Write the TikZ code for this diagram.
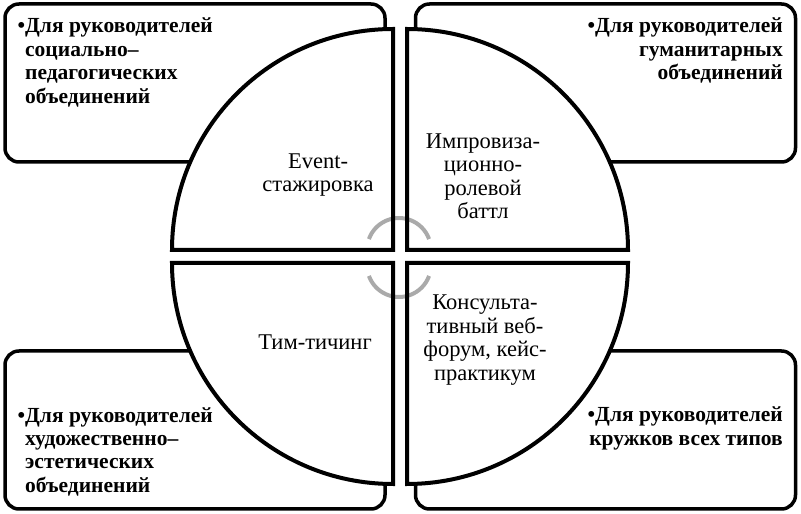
\documentclass[tikz,border=0pt]{standalone}
\usepackage{fontspec}
\setmainfont{Liberation Serif}
\usetikzlibrary{positioning}
\definecolor{arcgray}{RGB}{170,170,170}

\begin{document}
\begin{tikzpicture}[
  x=1pt, y=1pt,
  group/.style={draw, line width=3.5pt, rounded corners=14pt, minimum width=380pt, minimum height=158pt, inner sep=0pt},
  target/.style={font=\bfseries\fontsize{21.5}{23.5}\selectfont, inner sep=0pt},
  form/.style={font=\fontsize{22.5}{23.5}\selectfont, align=center, inner sep=0pt},
  rim/.style={line width=4pt, line join=miter},
  turn/.style={draw=arcgray, line width=4pt}
]
\useasboundingbox (0,0) rectangle (801,514);
% target groups
\node[group] (soc) at (195,431) {};
\node[group] (hum) at (605.5,431) {};
\node[group] (art) at (195,84) {};
\node[group] (club) at (605.5,84) {};
\node[target, anchor=north west, align=left] (socText) at (25,496) {\llap{•}Для руководителей\\социально–\\педагогических\\объединений};
\node[target, anchor=north east, align=right] (humText) at (783,496) {•Для руководителей\\гуманитарных\\объединений};
\node[target, anchor=north west, align=left] (artText) at (25,107) {\llap{•}Для руководителей\\художественно–\\эстетических\\объединений};
\node[target, anchor=north east, align=right] (clubText) at (783,107) {•Для руководителей\\кружков всех типов};
% circle of four forms
\coordinate (hub) at (400,257.5);
\foreach \cx/\cy/\a in {393/264/90, 407/264/0, 393/251/180, 407/251/270}
  \fill[white] (\cx,\cy) -- ++(\a:221) arc[start angle=\a, delta angle=90, radius=221] -- cycle;
\draw[turn] ([shift={(-1,6.5)}]hub) ++(160:32) arc[start angle=160, end angle=20, radius=32];
\draw[turn] ([shift={(-1,-8.5)}]hub) ++(200:32) arc[start angle=200, end angle=340, radius=32];
\foreach \cx/\cy/\a in {393/264/90, 407/264/0, 393/251/180, 407/251/270}
  \draw[rim] (\cx,\cy) -- ++(\a:221) arc[start angle=\a, delta angle=90, radius=221] -- cycle;
\node[form] (event) at (318,339) {Event-\\стажировка};
\node[form] (battle) at (483,338) {Импровиза-\\ционно-\\ролевой\\баттл};
\node[form] (team) at (315,172) {Тим-тичинг};
\node[form] (forum) at (485,174) {Консульта-\\тивный веб-\\форум, кейс-\\практикум};
\end{tikzpicture}
\end{document}
